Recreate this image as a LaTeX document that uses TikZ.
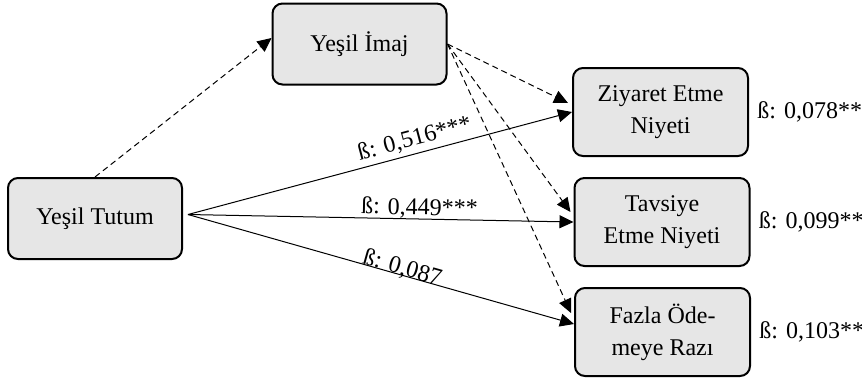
\documentclass[tikz,border=0pt]{standalone}
\usepackage{fontspec}
\setmainfont{Liberation Serif}
\usetikzlibrary{arrows.meta,positioning}
\definecolor{boxgray}{HTML}{E6E6E6}

\begin{document}
\begin{tikzpicture}[x=0.5pt,y=-0.5pt,
    font=\fontsize{12}{16}\selectfont,
    box/.style={draw,line width=1pt,rounded corners=5pt,fill=boxgray,minimum width=87pt,minimum height=40.5pt,align=center,inner sep=2pt},
    tall/.style={box,minimum width=87.5pt,minimum height=44pt},
    link/.style={line width=0.5pt,-{Triangle[length=7pt,width=6.5pt]}},
    dlink/.style={link,dash pattern=on 3pt off 2pt},
    beta/.style={inner sep=0pt}]
    \useasboundingbox (0,0) rectangle (862,382);

    \node[box](tt) at (95,218.5){Yeşil Tutum};
    \node[box](im) at (359.5,44){Yeşil İmaj};
    \node[tall](zn) at (660.5,112){Ziyaret Etme\\Niyeti};
    \node[tall](tn) at (662,222){Tavsiye\\Etme Niyeti};
    \node[tall](fr) at (662.5,332){Fazla Öde-\\meye Razı};

    \node[beta,right=4pt of zn]{ß: 0,078**};
    \node[beta,right=4pt of tn]{ß: 0,099**};
    \node[beta,right=4pt of fr]{ß: 0,103**};

    \coordinate(ttout) at ([xshift=2.5pt,yshift=2pt]tt.east);

    \draw[dlink](tt.north)--([yshift=3pt]im.west);

    \draw[link](ttout)--(zn.west)node[pos=0.6,sloped,above=2pt,inner sep=0pt]{ß: 0,516***};
    \draw[link](ttout)--(tn.west)node[pos=0.6,sloped,above=0pt,inner sep=0pt]{ß: 0,449***};
    \draw[link](ttout)--([yshift=4pt]fr.west)node[pos=0.55,sloped,above=-2pt,inner sep=0pt]{ß: 0,087};

    \draw[dlink](im.east)--([xshift=-2pt,yshift=4.5pt]zn.west);
    \draw[dlink](im.east)--([xshift=-1.5pt,yshift=5pt]tn.west);
    \draw[dlink](im.east)--([xshift=-1.5pt,yshift=9.5pt]fr.west);
\end{tikzpicture}
\end{document}
